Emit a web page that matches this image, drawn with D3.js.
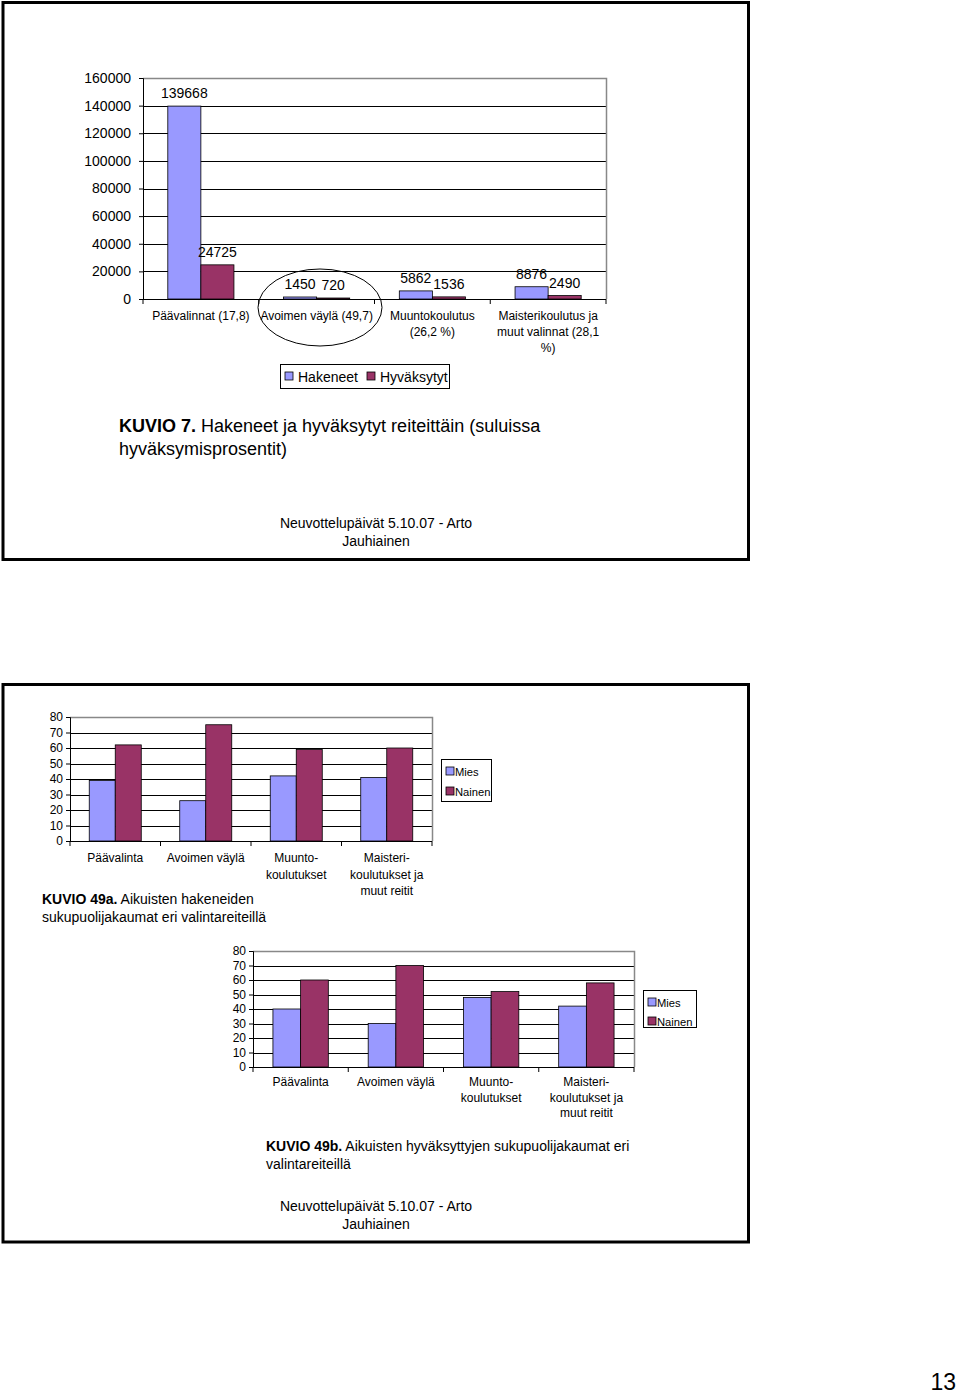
<!DOCTYPE html>
<html><head><meta charset="utf-8">
<script src="https://cdn.jsdelivr.net/npm/d3@7"></script>
<style>
body{margin:0;background:#fff;}
svg{display:block;font-family:"Liberation Sans",Arial,sans-serif;}
</style></head>
<body>
<svg id="c" width="960" height="1394"></svg>
<script>
// ---- Data ----
const cats1 = [["Päävalinnat (17,8)"],["Avoimen väylä (49,7)"],["Muuntokoulutus","(26,2 %)"],["Maisterikoulutus ja","muut valinnat (28,1","%)"]];
const hakeneet = [139668, 1450, 5862, 8876];
const hyvaksytyt = [24725, 720, 1536, 2490];
const ticks1 = [0,20000,40000,60000,80000,100000,120000,140000,160000];
const series1 = ["Hakeneet","Hyväksytyt"];

const catsA = [["Päävalinta"],["Avoimen väylä"],["Muunto-","koulutukset"],["Maisteri-","koulutukset ja","muut reitit"]];
const miesA = [39, 26, 42, 41];
const nainenA = [62, 75, 59, 60];
const miesB = [40, 30, 48, 42];
const nainenB = [60, 70, 52, 58];
const ticksAB = [0,10,20,30,40,50,60,70,80];
const series2 = ["Mies","Nainen"];

const colors = ["#9999ff","#993366"];
const svg = d3.select("#c");

// slide frames
svg.append("rect").attr("x",3).attr("y",2.5).attr("width",745.5).attr("height",557).attr("fill","none").attr("stroke","#000").attr("stroke-width",3);
svg.append("rect").attr("x",3).attr("y",684.5).attr("width",745.5).attr("height",557.5).attr("fill","none").attr("stroke","#000").attr("stroke-width",3);

function barChart(o){
  const g = svg.append("g");
  const x = d3.scaleBand().domain(d3.range(o.cats.length)).range([o.x0,o.x1]);
  const y = d3.scaleLinear().domain([0,o.max]).range([o.y0,o.y1]);
  const inner = d3.scaleBand().domain([0,1]).range([0,x.bandwidth()]).paddingInner(0).paddingOuter(o.pad);
  // gridlines
  g.append("g").selectAll("line").data(o.ticks.filter(t=>t>0 && t<o.max)).join("line")
    .attr("x1",o.x0).attr("x2",o.x1).attr("y1",d=>Math.round(y(d))+0.5).attr("y2",d=>Math.round(y(d))+0.5)
    .attr("stroke","#000").attr("stroke-width",1);
  // plot area top/right border
  g.append("path").attr("d",`M${o.x0},${Math.round(y(o.max))+0.5}H${o.x1+0.5}V${o.y0}`).attr("fill","none").attr("stroke","#888").attr("stroke-width",1.5);
  // bars
  o.series.forEach((vals,si)=>{
    g.append("g").selectAll("rect").data(vals).join("rect")
      .attr("x",(d,i)=>x(i)+inner(si)).attr("width",inner.bandwidth())
      .attr("y",d=>y(d)).attr("height",d=>y(0)-y(d))
      .attr("fill",colors[si]).attr("stroke","#000").attr("stroke-width",0.8);
    if(o.labels){
      g.append("g").selectAll("text").data(vals).join("text")
        .attr("x",(d,i)=>x(i)+inner(si)+inner.bandwidth()/2).attr("y",d=>y(d)-8)
        .attr("text-anchor","middle").attr("font-size",o.labelSize).text(d=>d);
    }
  });
  // y axis
  const ya = d3.axisLeft(y).tickValues(o.ticks).tickSize(4).tickPadding(o.tickPad).tickFormat(d3.format("d"));
  const yg = g.append("g").attr("transform",`translate(${o.x0},0)`).call(ya);
  yg.select(".domain").attr("stroke","#000");
  yg.selectAll("text").attr("font-size",o.tickSize).attr("fill","#000").attr("font-family","Liberation Sans, Arial, sans-serif");
  // x axis
  const xb = d3.scaleLinear().domain([0,o.cats.length]).range([o.x0,o.x1]);
  g.append("line").attr("x1",o.x0).attr("x2",o.x1).attr("y1",o.y0+0.5).attr("y2",o.y0+0.5).attr("stroke","#000");
  g.append("g").selectAll("line").data(d3.range(o.cats.length+1)).join("line")
    .attr("x1",d=>xb(d)).attr("x2",d=>xb(d)).attr("y1",o.y0).attr("y2",o.y0+5).attr("stroke","#000");
  // category labels
  o.cats.forEach((lines,i)=>{
    const t = g.append("text").attr("text-anchor","middle").attr("font-size",o.catSize);
    lines.forEach((l,j)=>t.append("tspan").attr("x",x(i)+x.bandwidth()/2).attr("y",o.catY+j*o.catLH).text(l));
  });
  return {x,y};
}

// ---- Chart 1 ----
barChart({cats:cats1, series:[hakeneet,hyvaksytyt], x0:143, x1:606, y0:299, y1:78, max:160000,
  ticks:ticks1, tickSize:14, tickPad:8, labels:true, labelSize:14, catSize:12, catY:320, catLH:16, pad:0.75});
// ellipse around Avoimen väylä
svg.append("ellipse").attr("cx",320).attr("cy",307.5).attr("rx",62).attr("ry",38.5).attr("fill","none").attr("stroke","#000").attr("stroke-width",1);
// legend 1
const lg1 = svg.append("g");
lg1.append("rect").attr("x",280.5).attr("y",364.5).attr("width",169).attr("height",24).attr("fill","#fff").attr("stroke","#000");
[[285,"Hakeneet"],[367,"Hyväksytyt"]].forEach((d,i)=>{
  lg1.append("rect").attr("x",d[0]).attr("y",372).attr("width",8).attr("height",8).attr("fill",colors[i]).attr("stroke","#000").attr("stroke-width",0.8);
  lg1.append("text").attr("x",d[0]+13).attr("y",381.5).attr("font-size",14).text(series1[i]);
});
// captions top
const t1 = svg.append("text").attr("x",119).attr("y",432).attr("font-size",18);
t1.append("tspan").attr("font-weight","bold").text("KUVIO 7.");
t1.append("tspan").text(" Hakeneet ja hyväksytyt reiteittäin (suluissa");
svg.append("text").attr("x",119).attr("y",455).attr("font-size",18).text("hyväksymisprosentit)");
svg.append("text").attr("x",376).attr("y",528).attr("font-size",14).attr("text-anchor","middle").text("Neuvottelupäivät 5.10.07 - Arto");
svg.append("text").attr("x",376).attr("y",546).attr("font-size",14).attr("text-anchor","middle").text("Jauhiainen");

// ---- Chart 49a ----
barChart({cats:catsA, series:[miesA,nainenA], x0:70, x1:432, y0:841, y1:717, max:80,
  ticks:ticksAB, tickSize:12, tickPad:3, labels:false, catSize:12, catY:862, catLH:16.5, pad:0.74});
function legend2(x,y,w,h,gap){
  const g = svg.append("g");
  g.append("rect").attr("x",x+0.5).attr("y",y+0.5).attr("width",w).attr("height",h).attr("fill","#fff").attr("stroke","#000");
  series2.forEach((s,i)=>{
    g.append("rect").attr("x",x+5).attr("y",y+8+i*gap).attr("width",8).attr("height",8).attr("fill",colors[i]).attr("stroke","#000").attr("stroke-width",0.8);
    g.append("text").attr("x",x+14).attr("y",y+16.5+i*gap).attr("font-size",11.2).text(s);
  });
}
legend2(441,759,50,42,20);
const t2 = svg.append("text").attr("x",42).attr("y",904).attr("font-size",14);
t2.append("tspan").attr("font-weight","bold").text("KUVIO 49a.");
t2.append("tspan").text(" Aikuisten hakeneiden");
svg.append("text").attr("x",42).attr("y",922).attr("font-size",14).text("sukupuolijakaumat eri valintareiteillä");

// ---- Chart 49b ----
barChart({cats:catsA, series:[miesB,nainenB], x0:253, x1:634, y0:1067, y1:951, max:80,
  ticks:ticksAB, tickSize:12, tickPad:3, labels:false, catSize:12, catY:1086, catLH:15.5, pad:0.72});
legend2(643,990,53,37,19);
const t3 = svg.append("text").attr("x",266).attr("y",1151).attr("font-size",14);
t3.append("tspan").attr("font-weight","bold").text("KUVIO 49b.");
t3.append("tspan").text(" Aikuisten hyväksyttyjen sukupuolijakaumat eri");
svg.append("text").attr("x",266).attr("y",1169).attr("font-size",14).text("valintareiteillä");
svg.append("text").attr("x",376).attr("y",1211).attr("font-size",14).attr("text-anchor","middle").text("Neuvottelupäivät 5.10.07 - Arto");
svg.append("text").attr("x",376).attr("y",1229).attr("font-size",14).attr("text-anchor","middle").text("Jauhiainen");

// page number
svg.append("text").attr("x",956).attr("y",1390).attr("font-size",23).attr("text-anchor","end").text("13");
</script>
</body></html>
